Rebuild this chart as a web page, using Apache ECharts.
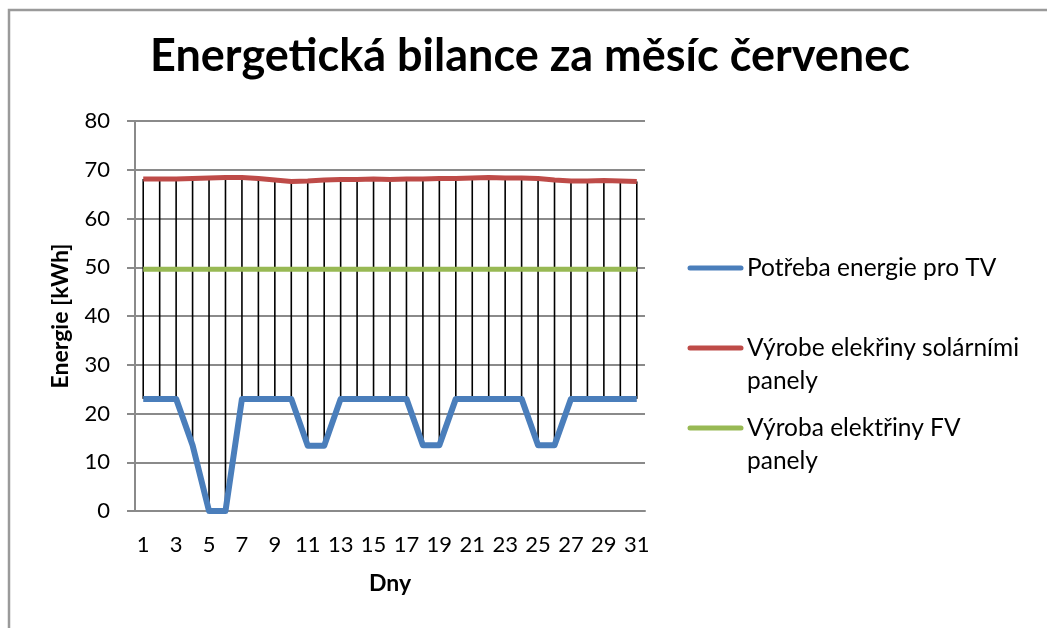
<!DOCTYPE html>
<html>
<head>
<meta charset="utf-8">
<script src="https://cdn.jsdelivr.net/npm/echarts@6/dist/echarts.min.js"></script>
<style>
  html, body { margin: 0; padding: 0; background: #fff; }
  #chart { width: 1047px; height: 628px; }
</style>
</head>
<body>
<div id="chart"></div>
<script>
// Daily energy balance for July (kWh)
const days = Array.from({ length: 31 }, (_, i) => String(i + 1));

// Energy demand for hot water (TV)
const demand = [
  23, 23, 23, 13.5, 0, 0, 23, 23, 23, 23,
  13.4, 13.4, 23, 23, 23, 23, 23, 13.5, 13.5, 23,
  23, 23, 23, 23, 13.5, 13.5, 23, 23, 23, 23, 23
];

// Output of solar thermal panels
const solar = [
  68.1, 68.1, 68.1, 68.2, 68.3, 68.4, 68.4, 68.2, 67.9, 67.6,
  67.7, 67.9, 68.0, 68.0, 68.1, 68.0, 68.1, 68.1, 68.2, 68.2,
  68.3, 68.4, 68.3, 68.3, 68.2, 67.9, 67.7, 67.7, 67.8, 67.7, 67.6
];

// Output of photovoltaic panels
const pv = Array.from({ length: 31 }, () => 49.6);

const seriesNames = [
  'Potřeba energie pro TV',
  'Výrobe elekřiny solárními\npanely',
  'Výroba elektřiny FV\npanely'
];
const seriesColors = ['#4a7ebb', '#be4b48', '#98b954'];

const yTicks = { min: 0, max: 80, interval: 10 };

const FONT = 'Lato';
const chart = echarts.init(document.getElementById('chart'));

// Legend drawn as graphic items: line sample + (possibly two-line) label
const legendTop = [268, 348, 428];
const legendGraphics = [];
seriesNames.forEach((name, i) => {
  legendGraphics.push({
    type: 'line',
    shape: { x1: 690, y1: legendTop[i], x2: 741, y2: legendTop[i] },
    style: { stroke: seriesColors[i], lineWidth: 5, lineCap: 'round' }
  });
  legendGraphics.push({
    type: 'text',
    x: 747,
    y: legendTop[i] - 16,
    style: {
      text: name,
      font: '24.5px ' + FONT,
      fill: '#000',
      lineHeight: 33,
      verticalAlign: 'top'
    }
  });
});

chart.setOption({
  animation: false,
  backgroundColor: '#fff',
  textStyle: { fontFamily: FONT },
  title: {
    text: 'Energetická bilance za měsíc červenec',
    left: 525,
    textAlign: 'center',
    top: 29,
    textStyle: { fontFamily: FONT, fontWeight: 'bold', fontSize: 45, color: '#000' }
  },
  grid: { left: 135, right: 402, top: 121, bottom: 117, containLabel: false },
  xAxis: {
    type: 'category',
    data: days,
    boundaryGap: true,
    name: 'Dny',
    nameLocation: 'middle',
    nameGap: 61,
    nameTextStyle: { fontFamily: FONT, fontWeight: 'bold', fontSize: 23, color: '#000' },
    axisLine: { lineStyle: { color: '#8a8a8a', width: 2 } },
    axisTick: { show: false },
    axisLabel: { interval: 1, fontSize: 22, color: '#000', margin: 23, fontFamily: FONT }
  },
  yAxis: {
    type: 'value',
    min: yTicks.min,
    max: yTicks.max,
    interval: yTicks.interval,
    name: 'Energie [kWh]',
    nameLocation: 'middle',
    nameGap: 63,
    nameTextStyle: { fontFamily: FONT, fontWeight: 'bold', fontSize: 23, color: '#000' },
    axisLine: { show: true, lineStyle: { color: '#8a8a8a', width: 2 } },
    axisTick: { show: true, inside: false, length: 8, lineStyle: { color: '#8a8a8a', width: 2 } },
    axisLabel: { fontSize: 22, color: '#000', margin: 25, fontFamily: FONT },
    splitLine: { show: true, lineStyle: { color: '#8a8a8a', width: 2 } }
  },
  graphic: [
    {
      type: 'rect',
      shape: { x: 9, y: 10, width: 1200, height: 800 },
      style: { fill: 'none', stroke: '#9a9a9a', lineWidth: 2.5 },
      silent: true
    },
    ...legendGraphics
  ],
  series: [
    {
      // high-low lines between demand and solar output
      type: 'custom',
      name: 'hilo',
      z: 1,
      data: days.map((d, i) => [i, demand[i], solar[i]]),
      encode: { x: 0, y: [1, 2] },
      renderItem: function (params, api) {
        const lo = api.coord([api.value(0), api.value(1)]);
        const hi = api.coord([api.value(0), api.value(2)]);
        return {
          type: 'line',
          shape: { x1: lo[0], y1: lo[1], x2: hi[0], y2: hi[1] },
          style: { stroke: '#000', lineWidth: 1.6 }
        };
      }
    },
    {
      type: 'line',
      name: seriesNames[0],
      data: demand,
      z: 3,
      symbol: 'none',
      lineStyle: { color: seriesColors[0], width: 6, join: 'round' },
      itemStyle: { color: seriesColors[0] }
    },
    {
      type: 'line',
      name: seriesNames[1],
      data: solar,
      z: 3,
      symbol: 'none',
      lineStyle: { color: seriesColors[1], width: 5, join: 'round' },
      itemStyle: { color: seriesColors[1] }
    },
    {
      type: 'line',
      name: seriesNames[2],
      data: pv,
      z: 2,
      symbol: 'none',
      lineStyle: { color: seriesColors[2], width: 5 },
      itemStyle: { color: seriesColors[2] }
    }
  ]
});
</script>
</body>
</html>
